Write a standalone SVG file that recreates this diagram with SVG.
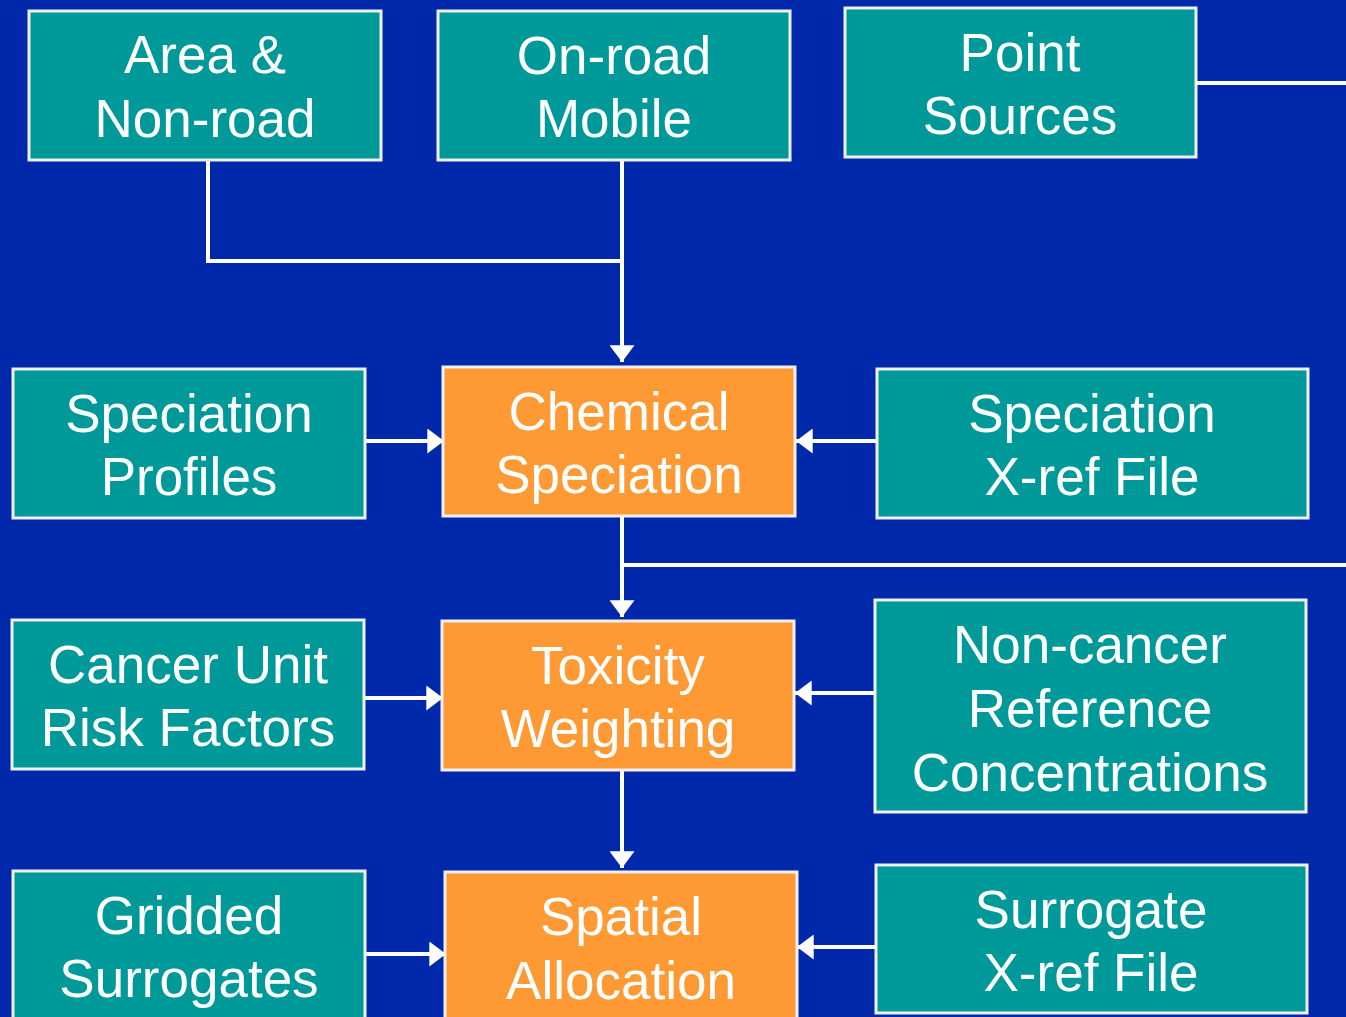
<svg xmlns="http://www.w3.org/2000/svg" width="1346" height="1017" viewBox="0 0 1346 1017">
<defs>
<marker id="ah" viewBox="0 0 16 24" refX="16" refY="12" markerWidth="17" markerHeight="25" markerUnits="userSpaceOnUse" orient="auto">
<path d="M0,0 L16,12 L0,24 Z" fill="#fff"/>
</marker>
<style>
.t rect{fill:#009999;stroke:#f0f0f0;stroke-width:3}
.o rect{fill:#FF9933;stroke:#f0f0f0;stroke-width:3}
text{font-family:"Liberation Sans",Arial,sans-serif;font-size:53px;fill:#fff;text-anchor:middle}
.c line,.c path{stroke:#fff;stroke-width:4;fill:none}
</style>
</defs>
<rect width="1346" height="1017" fill="#0028AA"/>
<g class="c" id="connectors">
<path d="M208,160 V261 H622"/>
<line x1="622" y1="160" x2="622" y2="362" marker-end="url(#ah)"/>
<line x1="1196" y1="83" x2="1346" y2="83"/>
<line x1="622" y1="516" x2="622" y2="617" marker-end="url(#ah)"/>
<line x1="622" y1="565" x2="1346" y2="565"/>
<line x1="622" y1="770" x2="622" y2="868" marker-end="url(#ah)"/>
<line x1="365" y1="441" x2="444" y2="441" marker-end="url(#ah)"/>
<line x1="877" y1="441" x2="796" y2="441" marker-end="url(#ah)"/>
<line x1="364" y1="698" x2="443" y2="698" marker-end="url(#ah)"/>
<line x1="875" y1="693" x2="795" y2="693" marker-end="url(#ah)"/>
<line x1="365" y1="954" x2="446" y2="954" marker-end="url(#ah)"/>
<line x1="876" y1="947" x2="797" y2="947" marker-end="url(#ah)"/>
</g>
<g id="area" class="t"><rect x="29" y="11" width="352" height="149"/><text x="205" y="73">Area &amp;</text><text x="205" y="137">Non-road</text></g>
<g id="onroad" class="t"><rect x="438" y="11" width="352" height="149"/><text x="614" y="74">On-road</text><text x="614" y="137">Mobile</text></g>
<g id="point" class="t"><rect x="845" y="8" width="351" height="149"/><text x="1020" y="71">Point</text><text x="1020" y="134">Sources</text></g>
<g id="specprof" class="t"><rect x="13" y="369" width="352" height="149"/><text x="189" y="432">Speciation</text><text x="189" y="495">Profiles</text></g>
<g id="chem" class="o"><rect x="443" y="367" width="352" height="149"/><text x="619" y="430">Chemical</text><text x="619" y="493">Speciation</text></g>
<g id="specxref" class="t"><rect x="877" y="369" width="431" height="149"/><text x="1092" y="432">Speciation</text><text x="1092" y="495">X-ref File</text></g>
<g id="cancer" class="t"><rect x="12" y="620" width="352" height="149"/><text x="188" y="683">Cancer Unit</text><text x="188" y="746">Risk Factors</text></g>
<g id="tox" class="o"><rect x="442" y="621" width="352" height="149"/><text x="618" y="684">Toxicity</text><text x="618" y="747">Weighting</text></g>
<g id="noncancer" class="t"><rect x="875" y="600" width="431" height="212"/><text x="1090" y="663">Non-cancer</text><text x="1090" y="727">Reference</text><text x="1090" y="791">Concentrations</text></g>
<g id="gridded" class="t"><rect x="13" y="871" width="352" height="160"/><text x="189" y="934">Gridded</text><text x="189" y="997">Surrogates</text></g>
<g id="spatial" class="o"><rect x="445" y="872" width="352" height="160"/><text x="621" y="935">Spatial</text><text x="621" y="999">Allocation</text></g>
<g id="surrxref" class="t"><rect x="876" y="865" width="431" height="148"/><text x="1091" y="928">Surrogate</text><text x="1091" y="991">X-ref File</text></g>
</svg>
